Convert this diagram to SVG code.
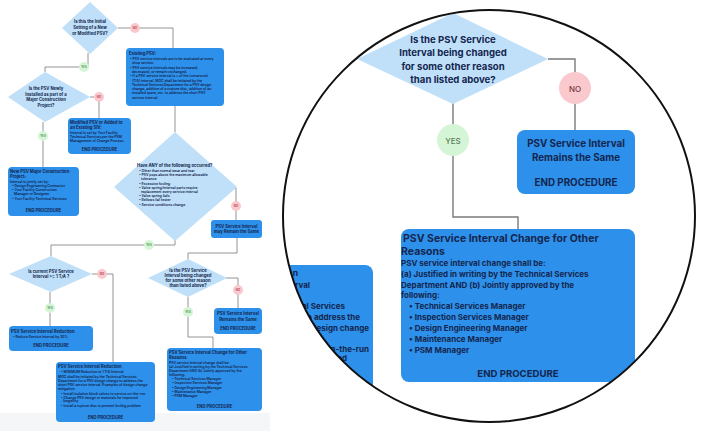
<svg xmlns="http://www.w3.org/2000/svg" width="702" height="431" viewBox="0 0 702 431">
<style>
.bx{fill:#2d90ea;}
.dm{fill:#bfe0f8;}
.ln{fill:none;stroke:#7a7a7a;stroke-width:0.8;}
.lnb{fill:none;stroke:#7a7a7a;stroke-width:1.4;}
.no{fill:#f9c9cd;}
.yes{fill:#d5f6d6;}
text{font-family:"Inter","Liberation Sans",sans-serif;font-weight:bold;fill:#14264f;}
.s{font-size:4.2px;}
.t{font-size:3.4px;font-weight:600;}
.c{text-anchor:middle;}
.lbn{fill:#c0505a;font-size:2.8px;}
.lby{fill:#4a8a4a;font-size:2.8px;}
</style>
<defs>
<clipPath id="cc"><circle cx="489" cy="216" r="206"/></clipPath>
</defs>
<rect width="702" height="431" fill="#fff"/>
<rect x="0" y="413" width="270" height="18" fill="#f5f6f8"/>

<g id="connectors">
<polyline class="ln" points="118,28 173,28 173,48"/>
<polyline class="ln" points="88,53 88,67 45,67 45,72"/>
<polyline class="ln" points="90,97 99,97 99,118"/>
<polyline class="ln" points="43,122 43,167"/>
<polyline class="ln" points="175,106 175,132"/>
<polyline class="ln" points="222,188 236,188 236,220"/>
<polyline class="ln" points="175,240 175,245 51,245 51,256"/>
<polyline class="ln" points="92,274 113,274 113,362"/>
<polyline class="ln" points="50,292 50,326"/>
<polyline class="ln" points="237,238 237,253 188,253 188,259"/>
<polyline class="ln" points="226,278 238,278 238,308"/>
<polyline class="ln" points="188,297 188,337 213,337 213,348"/>
</g>

<g id="d1"><polygon class="dm" points="90,2 118,28 90,54 62,28"/>
<text class="s c" x="90" y="23">Is this the Initial</text><text class="s c" x="90" y="29">Setting of a New</text><text class="s c" x="90" y="35">or Modified PSV?</text></g>
<g id="no1"><circle class="no" cx="135" cy="28" r="5"/><text class="lbn c" x="135" y="29">NO</text></g>
<g id="yes1"><circle class="yes" cx="84" cy="67" r="5"/><text class="lby c" x="84" y="68">YES</text></g>
<g id="existing"><rect class="bx" x="126" y="48" width="98" height="58" rx="4"/>
<text class="s" x="129" y="55">Existing PSV:</text>
<text class="t" x="130" y="60">• PSV service intervals are to be evaluated at every</text>
<text class="t" x="132" y="64.3">shop service.</text>
<text class="t" x="130" y="68.6">• PSV service intervals may be increased,</text>
<text class="t" x="132" y="72.9">decreased, or remain unchanged.</text>
<text class="t" x="130" y="77.2">• If a PSV service interval is ≤ of the turnaround</text>
<text class="t" x="132" y="81.5">(T/A) interval, MOC shall be initiated by the</text>
<text class="t" x="132" y="85.8">Technical Services Department for a PSV design</text>
<text class="t" x="132" y="90.1">change, addition of a rupture disc, addition of an</text>
<text class="t" x="132" y="94.4">installed spare, etc. to address the short PSV</text>
<text class="t" x="132" y="98.7">service interval.</text></g>

<g id="d2"><polygon class="dm" points="45,72 90,97 45,122 8,97"/>
<text class="s c" x="46" y="90">Is the PSV Newly</text><text class="s c" x="46" y="95.5">Installed as part of a</text><text class="s c" x="46" y="101">Major Construction</text><text class="s c" x="46" y="106.5">Project?</text></g>
<g id="no2"><circle class="no" cx="99" cy="97" r="5"/><text class="lbn c" x="99" y="98">NO</text></g>
<g id="box2"><rect class="bx" x="68" y="118" width="63" height="36" rx="4"/>
<text class="s" x="70" y="124">Modified PSV or Added to</text><text class="s" x="70" y="129">an Existing SIV:</text>
<text class="t" x="70" y="134">Interval is set by Your Facility</text><text class="t" x="70" y="138">Technical Services per the PSM</text><text class="t" x="70" y="142">Management of Change Process.</text>
<text class="s c" x="99.5" y="151">END PROCEDURE</text></g>
<g id="yes2"><circle class="yes" cx="43" cy="136" r="5"/><text class="lby c" x="43" y="137">YES</text></g>
<g id="box3"><rect class="bx" x="8" y="167" width="71" height="49" rx="4"/>
<text class="s" x="10" y="173">New PSV Major Construction</text><text class="s" x="10" y="178">Project:</text>
<text class="t" x="10" y="182.5">Interval is jointly set by:</text>
<text class="t" x="12" y="187">• Design Engineering Contractor</text>
<text class="t" x="12" y="191.3">• Your Facility Construction</text><text class="t" x="14" y="195.3">Manager or Designee</text>
<text class="t" x="12" y="199.5">• Your Facility Technical Services</text>
<text class="s c" x="43.5" y="212">END PROCEDURE</text></g>

<g id="d3"><polygon class="dm" points="175,132 237,187 175,241 114,187"/>
<text class="s" x="137" y="167">Have ANY of the following occurred?</text>
<text class="t" x="139" y="172">• Other than normal wear and tear</text>
<text class="t" x="139" y="176.3">• PSV pops above the maximum allowable</text><text class="t" x="141" y="180">tolerance</text>
<text class="t" x="139" y="184.5">• Excessive fouling</text>
<text class="t" x="139" y="189">• Valve spring/internal parts require</text><text class="t" x="141" y="192.7">replacement every service interval</text>
<text class="t" x="139" y="197">• Valve spring fails</text>
<text class="t" x="139" y="201.3">• Bellows fail tester</text>
<text class="t" x="139" y="205.6">• Service conditions change</text></g>
<g id="no3"><circle class="no" cx="236" cy="206" r="5"/><text class="lbn c" x="236" y="207">NO</text></g>
<g id="remain1"><rect class="bx" x="211" y="220" width="51" height="18" rx="3"/>
<text class="s c" x="236.5" y="227.5">PSV Service Interval</text><text class="s c" x="236.5" y="233">may Remain the Same</text></g>
<g id="yes3"><circle class="yes" cx="149" cy="245" r="5"/><text class="lby c" x="149" y="246">YES</text></g>

<g id="d4"><polygon class="dm" points="51,256 92,274 51,292 9,274"/>
<text class="s c" x="51" y="272.5">Is current PSV Service</text><text class="s c" x="51" y="278">Interval &gt;= 1 T/A ?</text></g>
<g id="no4"><circle class="no" cx="102" cy="274" r="5"/><text class="lbn c" x="102" y="275">NO</text></g>
<g id="yes4"><circle class="yes" cx="50" cy="308" r="5"/><text class="lby c" x="50" y="309">YES</text></g>
<g id="red1"><rect class="bx" x="9" y="326" width="84" height="25" rx="4"/>
<text class="s" x="11" y="333">PSV Service Interval Reduction</text>
<text class="t" x="13" y="338">• Reduce Service Interval by 50%</text>
<text class="s c" x="51" y="347">END PROCEDURE</text></g>
<g id="red2"><rect class="bx" x="56" y="362" width="99" height="60" rx="4"/>
<text class="s" x="58" y="368">PSV Service Interval Reduction</text>
<text class="t" x="61" y="372.5">• MINIMUM Reduction to 1 T/A Interval</text>
<text class="t" x="58" y="378">MOC shall be initiated by the Technical Services</text>
<text class="t" x="58" y="382">Department for a PSV design change to address the</text>
<text class="t" x="58" y="386">short PSV service interval. Examples of design change</text>
<text class="t" x="58" y="390">mitigation:</text>
<text class="t" x="61" y="394.5">• Install isolation block valves to service on-the-run</text>
<text class="t" x="61" y="398.5">• Change PSV design or materials for improved</text><text class="t" x="63" y="402">longevity</text>
<text class="t" x="61" y="406.5">• Install a rupture disc to prevent fouling problem</text>
<text class="s c" x="105.5" y="419">END PROCEDURE</text></g>

<g id="d5"><polygon class="dm" points="188,259 227,278 188,297 148,278"/>
<text class="s c" x="188" y="271.5">Is the PSV Service</text><text class="s c" x="188" y="276.5">Interval being changed</text><text class="s c" x="188" y="281.5">for some other reason</text><text class="s c" x="188" y="286.5">than listed above?</text></g>
<g id="no5"><circle class="no" cx="238" cy="290" r="5"/><text class="lbn c" x="238" y="291">NO</text></g>
<g id="remain2"><rect class="bx" x="214" y="308" width="48" height="26" rx="4"/>
<text class="s c" x="238" y="315">PSV Service Interval</text><text class="s c" x="238" y="320.5">Remains the Same</text><text class="s c" x="238" y="330">END PROCEDURE</text></g>
<g id="yes5"><circle class="yes" cx="188" cy="312" r="5"/><text class="lby c" x="188" y="313">YES</text></g>
<g id="other1"><rect class="bx" x="167" y="348" width="95" height="63" rx="4"/>
<text class="s" x="169" y="354">PSV Service Interval Change for Other</text><text class="s" x="169" y="359">Reasons</text>
<text class="t" x="169" y="363.5">PSV service interval change shall be:</text>
<text class="t" x="169" y="367.7">(a) Justified in writing by the Technical Services</text>
<text class="t" x="169" y="371.9">Department AND (b) Jointly approved by the</text>
<text class="t" x="169" y="376">following:</text>
<text class="t" x="172" y="380.2">• Technical Services Manager</text>
<text class="t" x="172" y="384.4">• Inspection Services Manager</text>
<text class="t" x="172" y="388.6">• Design Engineering Manager</text>
<text class="t" x="172" y="392.8">• Maintenance Manager</text>
<text class="t" x="172" y="397">• PSM Manager</text>
<text class="s c" x="214.5" y="408">END PROCEDURE</text></g>

<g id="zoomview">
<circle cx="489" cy="216" r="206" fill="#fff"/>
<g clip-path="url(#cc)">
<polyline class="lnb" points="548,59 575,59 575,130"/>
<polyline class="lnb" points="453,103 453,217 518,217 518,229"/>
<polygon class="dm" points="453,13 548,59 453,104 357,59"/>
<text class="c" font-size="9.6" x="453" y="43">Is the PSV Service</text>
<text class="c" font-size="9.6" x="453" y="56">Interval being changed</text>
<text class="c" font-size="9.6" x="453" y="69.5">for some other reason</text>
<text class="c" font-size="9.6" x="453" y="82.5">than listed above?</text>
<circle class="no" cx="575" cy="88" r="16"/><text class="c" x="575" y="91.5" font-size="8" style="fill:#7a3a40;font-weight:500">NO</text>
<circle class="yes" cx="453" cy="140" r="16"/><text class="c" x="453" y="143.5" font-size="8" style="fill:#5a7a5a;font-weight:500">YES</text>
<rect class="bx" x="517" y="130" width="118" height="64" rx="8"/>
<text class="c" font-size="9.8" x="576" y="147">PSV Service Interval</text>
<text class="c" font-size="9.8" x="576" y="160.5">Remains the Same</text>
<text class="c" font-size="9.8" x="576" y="185.5">END PROCEDURE</text>
<rect class="bx" x="401" y="229" width="234" height="153" rx="8"/>
<text font-size="10.5" x="403" y="242">PSV Service Interval Change for Other</text>
<text font-size="10.5" x="401" y="254.5">Reasons</text>
<g font-size="8">
<text x="401" y="266">PSV service interval change shall be:</text>
<text x="401" y="276.5">(a) Justified in writing by the Technical Services</text>
<text x="401" y="288">Department AND (b) Jointly approved by the</text>
<text x="401" y="298">following:</text>
<text x="409" y="308.5">• Technical Services Manager</text>
<text x="409" y="320">• Inspection Services Manager</text>
<text x="409" y="331">• Design Engineering Manager</text>
<text x="409" y="341.5">• Maintenance Manager</text>
<text x="409" y="352.5">• PSM Manager</text>
</g>
<text class="c" font-size="9.6" x="518" y="377">END PROCEDURE</text>
<rect class="bx" x="150" y="265" width="223" height="200" rx="8"/>
<g font-size="8" text-anchor="end">
<text font-size="8.6" x="298" y="276">PSV Service Interval Reduction</text>
<text x="310" y="288">• MINIMUM Reduction to 1 T/A Interval</text>
<text x="345" y="309">MOC shall be initiated by the Technical Services</text>
<text x="360" y="320">Department for a PSV design change to address the</text>
<text x="369" y="331">short PSV service interval. Examples of design change</text>
<text x="369" y="352">• Install isolation block valves to service on-the-run</text>
<text x="347" y="361">• Change PSV design or materials for improved</text>
</g>
</g>
<circle cx="489" cy="216" r="206" fill="none" stroke="#111" stroke-width="2"/>
</g>
</svg>
